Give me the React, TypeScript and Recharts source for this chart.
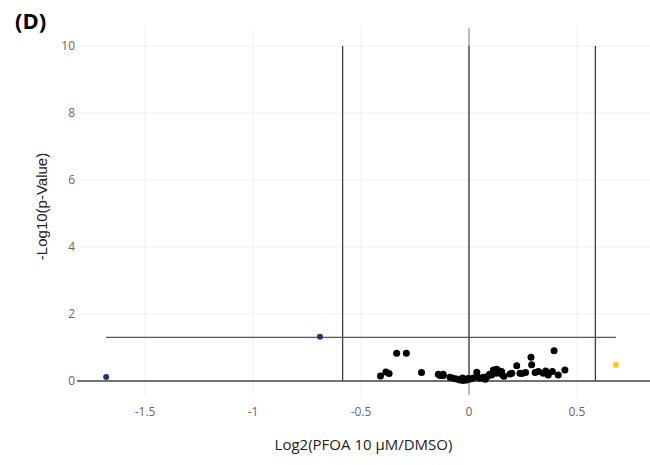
import React from 'react'
import {
  ScatterChart,
  Scatter,
  XAxis,
  YAxis,
  ReferenceLine,
  Label,
} from 'recharts'

// volcano points: log2 fold change / -log10 p
const nsX = [
  -0.41, -0.385, -0.37, -0.335, -0.29, -0.22, -0.142, -0.12, -0.134, -0.119,
  -0.088, -0.073, -0.057, -0.042, -0.026, -0.011, 0.008, 0.02, 0.036, 0.051,
  0.066, 0.085, 0.105, 0.116, 0.128, 0.151, 0.155, 0.113, 0.162, 0.19, 0.198,
  0.221, 0.236, 0.245, 0.262, 0.287, 0.29, 0.306, 0.321, 0.344, 0.367, 0.386,
  0.394, 0.413, 0.444, 0.128, 0.095, 0.075, 0.04, -0.005, -0.03, 0.14, 0.355,
]
const nsY = [
  0.15, 0.27, 0.22, 0.83, 0.83, 0.25, 0.2, 0.2, 0.16, 0.16,
  0.11, 0.08, 0.06, 0.03, 0.01, 0.03, 0.06, 0.09, 0.26, 0.08,
  0.11, 0.13, 0.18, 0.28, 0.23, 0.28, 0.18, 0.33, 0.14, 0.21, 0.23,
  0.45, 0.23, 0.22, 0.25, 0.71, 0.48, 0.25, 0.28, 0.23, 0.18, 0.28,
  0.9, 0.18, 0.33, 0.35, 0.2, 0.05, 0.12, 0.07, 0.09, 0.3, 0.3,
]
const downX = [-1.68, -0.69]
const downY = [0.12, 1.32]
const upX = [0.68]
const upY = [0.48]

const xTicks = [-1.5, -1, -0.5, 0, 0.5]
const yTicks = [0, 2, 4, 6, 8, 10]
const fcCut = 0.585
const pCut = 1.3

const zip = (xs: number[], ys: number[]) => xs.map((x, i) => ({ x, y: ys[i] }))
const nsData = zip(nsX, nsY)
const downData = zip(downX, downY)
const upData = zip(upX, upY)

const dot = (r: number, fill: string) => (props: any) =>
  <circle cx={props.cx} cy={props.cy} r={r} fill={fill} />

const tickStyle = { fontSize: 12, fill: '#666', fontFamily: 'Open Sans' }
const gridColor = '#eeeeee'

export default function App() {
  return (
    <div style={{ position: 'absolute', left: 0, top: 0, width: 650, height: 465, background: '#fff' }}>
      <div
        style={{
          position: 'absolute',
          left: 15,
          top: 5,
          fontFamily: 'Open Sans',
          fontWeight: 700,
          fontSize: 22,
          color: '#000',
        }}
      >
        (D)
      </div>
      <ScatterChart width={650} height={465} margin={{ top: 28, right: 0, bottom: 0, left: 0 }}>
        <XAxis
          type="number"
          dataKey="x"
          domain={[-1.815, 0.838]}
          ticks={xTicks}
          height={70}
          tickSize={0}
          tickMargin={12}
          axisLine={false}
          tick={tickStyle}
          allowDataOverflow
        >
          <Label
            value="Log2(PFOA 10 μM/DMSO)"
            position="insideBottom"
            offset={15}
            style={{ fontSize: 15, fill: '#222', fontFamily: 'Open Sans' }}
          />
        </XAxis>
        <YAxis
          type="number"
          dataKey="y"
          domain={[-0.42, 10.54]}
          ticks={yTicks}
          width={77}
          tickSize={0}
          tickMargin={2}
          axisLine={false}
          tick={tickStyle}
          allowDataOverflow
        >
          <Label
            content={(p: any) => {
              const vb = p.viewBox
              const cx = vb.x + 41
              const cy = vb.y + vb.height / 2 - 5
              return (
                <text
                  x={cx}
                  y={cy}
                  transform={`rotate(-90 ${cx} ${cy})`}
                  textAnchor="middle"
                  dominantBaseline="central"
                  style={{ fontSize: 15, fill: '#222', fontFamily: 'Liberation Sans' }}
                >
                  -Log10(p-Value)
                </text>
              )
            }}
          />
        </YAxis>
        {/* light grid at tick values */}
        {xTicks.map((t) => (
          <ReferenceLine key={`gx${t}`} x={t} stroke={gridColor} strokeWidth={1} />
        ))}
        {yTicks.map((t) => (
          <ReferenceLine key={`gy${t}`} y={t} stroke={gridColor} strokeWidth={1} />
        ))}
        <ReferenceLine x={0} stroke="#aaaaaa" strokeWidth={1.5} />
        <ReferenceLine y={0} stroke="#444" strokeWidth={1.5} />
        <ReferenceLine segment={[{ x: 0, y: 0 }, { x: 0, y: 10 }]} stroke="#444" strokeWidth={1.2} />
        <ReferenceLine segment={[{ x: -fcCut, y: 0 }, { x: -fcCut, y: 10 }]} stroke="#333" strokeWidth={1.2} />
        <ReferenceLine segment={[{ x: fcCut, y: 0 }, { x: fcCut, y: 10 }]} stroke="#333" strokeWidth={1.2} />
        <ReferenceLine
          segment={[{ x: downX[0], y: pCut }, { x: upX[0], y: pCut }]}
          stroke="#555"
          strokeWidth={1.2}
        />
        <Scatter data={nsData} shape={dot(3.5, '#000')} isAnimationActive={false} />
        <Scatter data={downData} shape={dot(3, '#1f3575')} isAnimationActive={false} />
        <Scatter data={upData} shape={dot(3, '#ffc41f')} isAnimationActive={false} />
      </ScatterChart>
    </div>
  )
}
